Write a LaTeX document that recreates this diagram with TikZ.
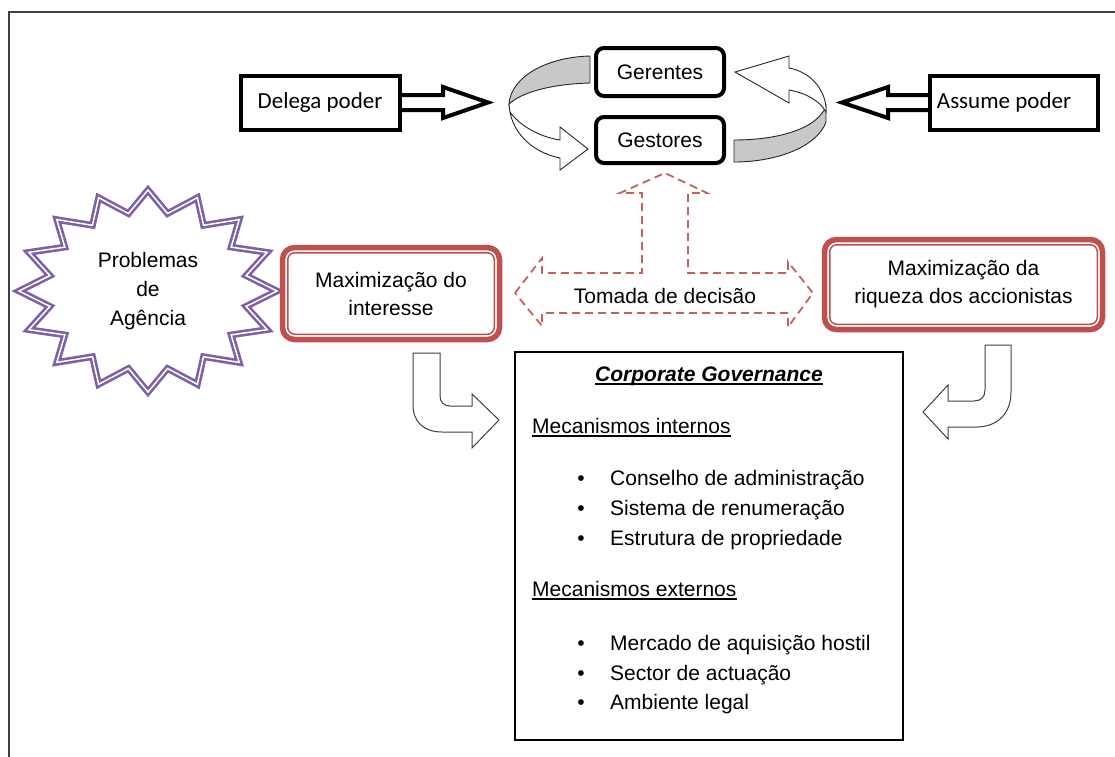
\documentclass[tikz,border=0pt]{standalone}
\usepackage{fontspec}
\setmainfont{Liberation Sans}
\newfontfamily\calibfont{Carlito}
\usetikzlibrary{calc}
\definecolor{redacc}{HTML}{C0504D}
\definecolor{purp}{HTML}{7D60A6}
\definecolor{ringgray}{HTML}{C8C8C8}
\definecolor{framegray}{HTML}{404040}
\begin{document}
\begin{tikzpicture}[x=1pt,y=-1pt,
  txt/.style={font=\fontsize{21}{29}\selectfont, inner sep=0pt, align=center},
  ltxt/.style={font=\fontsize{21}{29}\selectfont, inner sep=0pt, anchor=base west},
  blackbox/.style={draw=black, line width=4pt, rounded corners=8pt, fill=white, font=\fontsize{21}{29}\selectfont},
  sqbox/.style={draw=black, line width=4pt, fill=white, font=\calibfont\fontsize{23}{29}\selectfont},
  fatarrow/.style={draw=black, line width=4pt, fill=white, line join=miter},
  ringback/.style={draw=black!85, line width=0.9pt, fill=ringgray},
  ringfront/.style={draw=black!85, line width=0.9pt, fill=white, line join=miter},
  redbox/.style={draw=redacc, line width=5.5pt, rounded corners=12pt, fill=white, align=center, font=\fontsize{21}{28}\selectfont},
  redinner/.style={draw=redacc, line width=1.5pt, rounded corners=7pt},
  dasharrow/.style={draw=redacc!90, line width=1.8pt, dash pattern=on 8pt off 5pt, line join=miter},
  bentarrow/.style={draw=framegray, line width=1pt, fill=white, line join=miter},
  burst/.style={draw=purp, line width=2.6pt, double=white, double distance=1.5pt, line join=miter, miter limit=20},
  uline/.style={line width=1.1pt}
]
\clip (0,0) rectangle (1115,756);
\fill[white] (0,0) rectangle (1115,756);
\draw[framegray, line width=2pt] (9,12) rectangle (1140,790);

% Delega poder
\coordinate (dtip) at (488,102.5);
\draw[fatarrow] (395,95) -- (443,95) -- (443,87) -- (dtip) -- (443,118) -- (443,110) -- (395,110);
\node[sqbox, minimum width=159, minimum height=54] (del) at (320,102.5) {Delega poder};

% Assume poder
\coordinate (atip) at (842,102.5);
\draw[fatarrow] (935,95) -- (888,95) -- (888,87) -- (atip) -- (888,118) -- (888,110) -- (935,110);
\node[sqbox, minimum width=168, minimum height=54] (ass) at (1014,102.5) {};
\node[sqbox, draw=none, fill=none, inner sep=0pt] (asst) at (1004,102) {Assume poder};

% rings
\draw[ringback] (590,56) .. controls (548,57) and (511,76) .. (509,104) .. controls (522,92) and (552,84) .. (590,83) -- cycle;
\draw[ringfront] (509,104) .. controls (510,130) and (530,152) .. (560,158) -- (560,170) -- (588,149) -- (560,127) -- (560,140) .. controls (540,137) and (520,126) .. (510,112) -- cycle;
\draw[ringback] (734,140) .. controls (780,140) and (818,128) .. (826,106) -- (826,122) .. controls (818,145) and (780,162) .. (734,162) -- cycle;
\draw[ringfront] (826,107) .. controls (824,88) and (810,72) .. (789,68) -- (789,56) -- (735,72) -- (789,103) -- (789,90) .. controls (806,93) and (820,101) .. (826,112) -- cycle;

\node[blackbox, minimum width=128, minimum height=48] (ger) at (660,72) {Gerentes};
\node[blackbox, minimum width=128, minimum height=46] (ges) at (660,140) {Gestores};

% dashed decision arrow
\draw[dasharrow] (515,293) -- (542,258) -- (542,273) -- (642,273) -- (642,193) -- (620,193) -- (665,173) -- (707,193) -- (688,193) -- (688,273) -- (788,273) -- (788,262) -- (813,293) -- (788,327) -- (788,313) -- (542,313) -- (542,326) -- cycle;
\node[txt] (tom) at (665,296) {Tomada de decisão};

% burst
\draw[burst] (277,291) \foreach \i in {1,...,31} { -- ({148+ifthenelse(mod(\i,2)==0,129,100)*cos(\i*11.25)}, {291+ifthenelse(mod(\i,2)==0,101,79)*sin(\i*11.25)}) } -- cycle;
\node[txt] (prob) at (148,291) {Problemas\\de\\Agência};

% red boxes
\node[redbox, minimum width=217, minimum height=92] (maxi) at (391,293.5) {Maximização do\\interesse};
\draw[redinner] ([shift={(8,8)}]maxi.north west) rectangle ([shift={(-8,-8)}]maxi.south east);
\node[redbox, minimum width=278, minimum height=90] (maxr) at (963.5,284.5) {Maximização da\\riqueza dos accionistas};
\draw[redinner] ([shift={(8,8)}]maxr.north west) rectangle ([shift={(-8,-8)}]maxr.south east);

% bent arrows
\draw[bentarrow] (413,353) -- (413,405) .. controls (413,422) and (424,432) .. (442,432) -- (472,432) -- (472,448) -- (499,420) -- (472,394) -- (472,406) -- (450,406) .. controls (444,406) and (440,402) .. (440,396) -- (440,353) -- cycle;
\draw[bentarrow] (985,345) -- (1011,345) -- (1011,392) .. controls (1011,413) and (998,427) .. (976,427) -- (948,427) -- (948,439) -- (923,412) -- (948,385) -- (948,401) -- (974,401) .. controls (981,401) and (985,397) .. (985,390) -- cycle;

% Corporate governance box
\node[draw=black, line width=1.3pt, minimum width=388, minimum height=388, fill=white] (cg) at (709,546) {};
\node[ltxt, font=\fontsize{21}{29}\selectfont\bfseries\itshape, anchor=base] (cgt) at (709,381) {Corporate Governance};
\draw[uline] ([yshift=-3pt]cgt.base west) -- ([yshift=-3pt]cgt.base east);
\node[ltxt] (mi) at (532,433) {Mecanismos internos};
\draw[uline] ([yshift=-3pt]mi.base west) -- ([yshift=-3pt]mi.base east);
\node[ltxt, anchor=base] (b1) at (581,485) {•};
\node[ltxt] (i1) at (610,485) {Conselho de administração};
\node[ltxt, anchor=base] (b2) at (581,515) {•};
\node[ltxt] (i2) at (610,515) {Sistema de renumeração};
\node[ltxt, anchor=base] (b3) at (581,545) {•};
\node[ltxt] (i3) at (610,545) {Estrutura de propriedade};
\node[ltxt] (me) at (532,596) {Mecanismos externos};
\draw[uline] ([yshift=-3pt]me.base west) -- ([yshift=-3pt]me.base east);
\node[ltxt, anchor=base] (b4) at (581,650) {•};
\node[ltxt] (i4) at (610,650) {Mercado de aquisição hostil};
\node[ltxt, anchor=base] (b5) at (581,680) {•};
\node[ltxt] (i5) at (610,680) {Sector de actuação};
\node[ltxt, anchor=base] (b6) at (581,709) {•};
\node[ltxt] (i6) at (610,709) {Ambiente legal};
\end{tikzpicture}
\end{document}
